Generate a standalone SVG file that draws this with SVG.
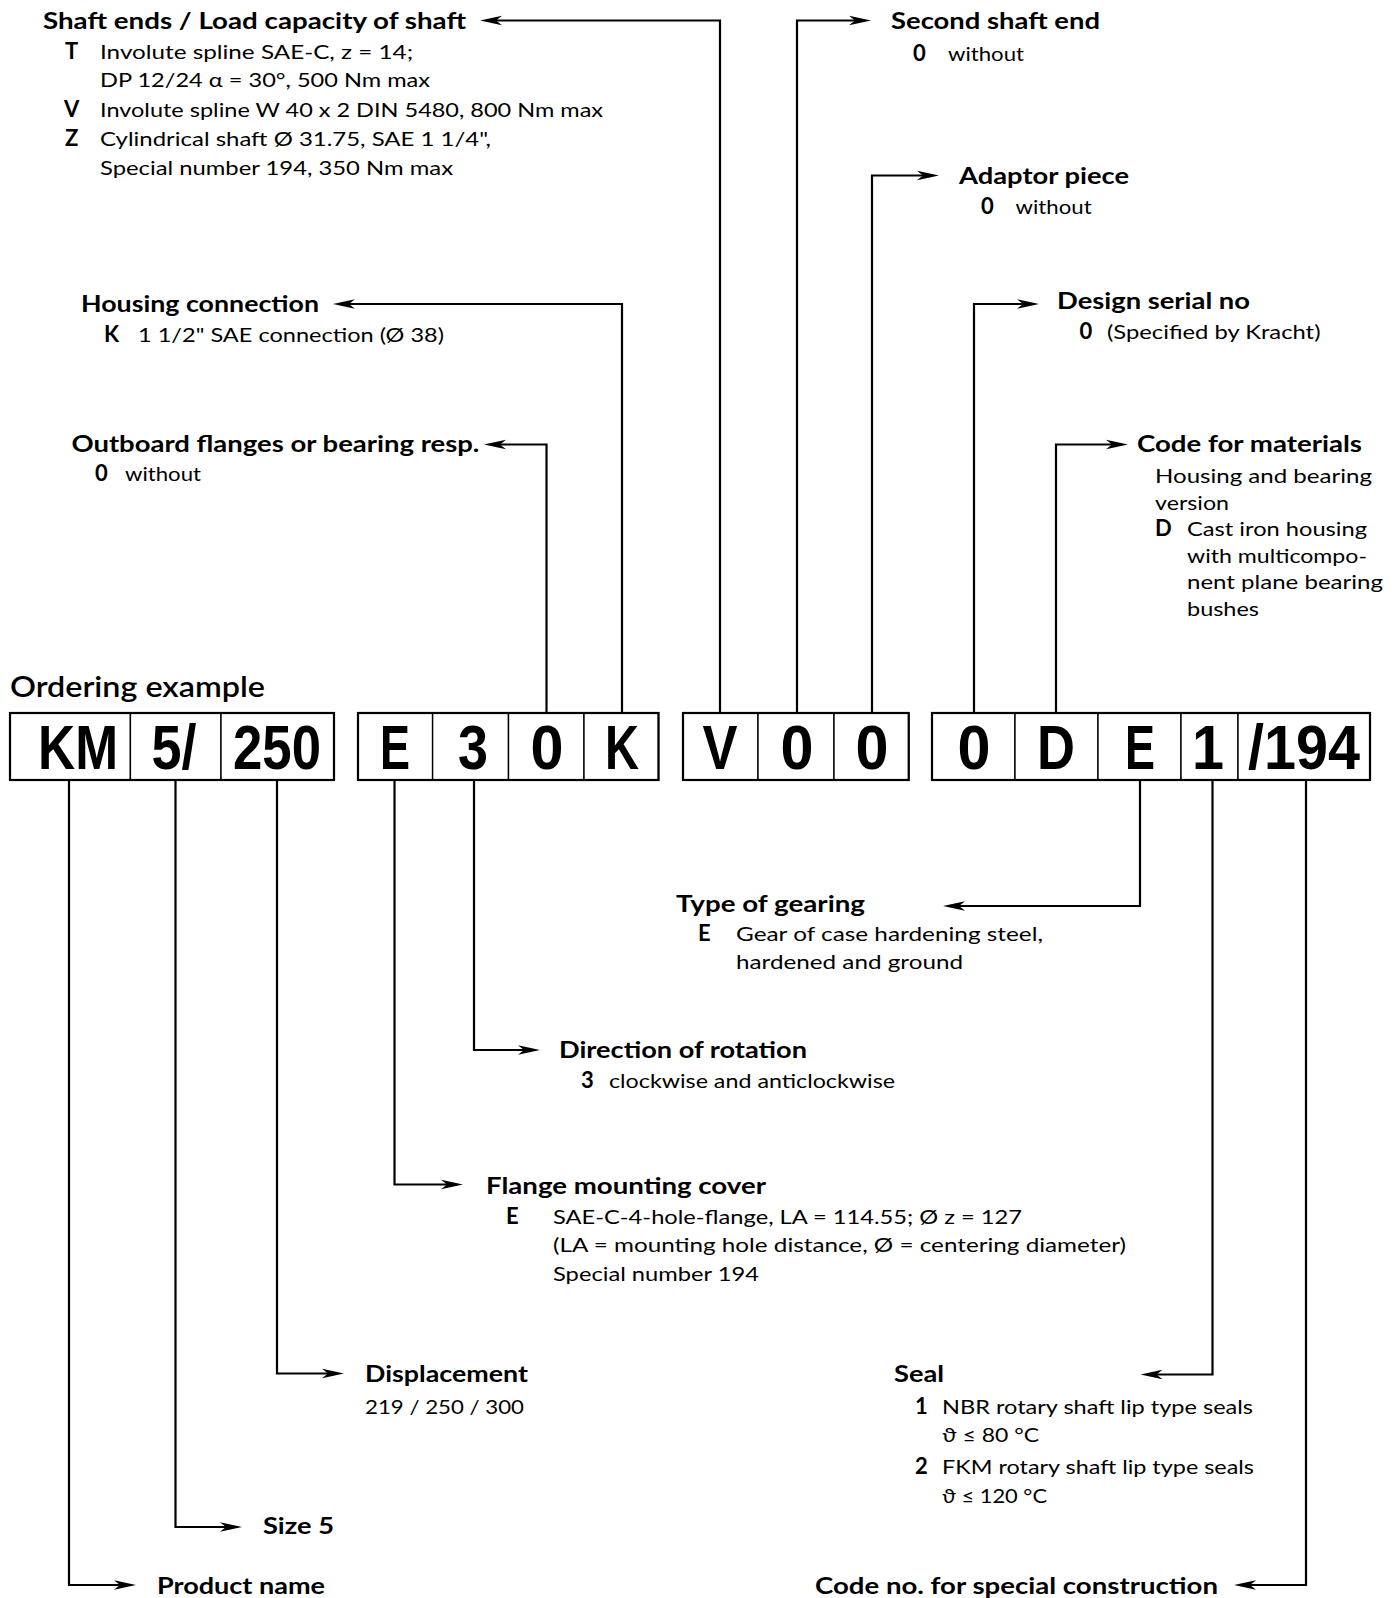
<svg xmlns="http://www.w3.org/2000/svg" width="1400" height="1598" viewBox="0 0 1400 1598">
<style>
.t{font-family:Lato,"Noto Sans",sans-serif;font-weight:700;font-size:22px;fill:#000}
.b{font-family:Lato,"Noto Sans",sans-serif;font-weight:400;font-size:20px;fill:#000}
.k{font-family:Lato,"Noto Sans",sans-serif;font-weight:700;font-size:22px;fill:#000}
.h{font-family:Lato,"Noto Sans",sans-serif;font-weight:600;font-size:29px;fill:#000}
.c{font-family:"Liberation Sans",Arial,sans-serif;font-weight:700;font-size:63px;fill:#000;text-anchor:middle}
.cell{fill:#fff;stroke:#000;stroke-width:1.4}
.grp{fill:none;stroke:#000;stroke-width:2.2}
.conn{fill:none;stroke:#000;stroke-width:2.2;stroke-linejoin:miter}
</style>
<defs>
<marker id="arr" markerUnits="userSpaceOnUse" viewBox="-14 -6 26 12" refX="0" refY="0" markerWidth="26" markerHeight="12" orient="auto">
<path d="M10,0 L-12,-4.8 L-6,0 L-12,4.8 Z" fill="#000"/>
</marker>
</defs>
<rect x="0" y="0" width="1400" height="1598" fill="#fff"/>

<g id="connectors">
<path class="conn" marker-end="url(#arr)" d="M720,713 V20.5 H490"/>
<path class="conn" marker-end="url(#arr)" d="M797,713 V20.5 H861"/>
<path class="conn" marker-end="url(#arr)" d="M872,713 V175.5 H929"/>
<path class="conn" marker-end="url(#arr)" d="M974,713 V304 H1029"/>
<path class="conn" marker-end="url(#arr)" d="M1056,713 V444.5 H1118"/>
<path class="conn" marker-end="url(#arr)" d="M622,713 V304 H343"/>
<path class="conn" marker-end="url(#arr)" d="M546.5,713 V444.5 H494"/>
<path class="conn" marker-end="url(#arr)" d="M69,780 V1585 H126"/>
<path class="conn" marker-end="url(#arr)" d="M175.5,780 V1527 H232"/>
<path class="conn" marker-end="url(#arr)" d="M277,780 V1373.5 H334"/>
<path class="conn" marker-end="url(#arr)" d="M394.5,780 V1184.5 H453"/>
<path class="conn" marker-end="url(#arr)" d="M474,780 V1050 H530"/>
<path class="conn" marker-end="url(#arr)" d="M1140,780 V906 H953"/>
<path class="conn" marker-end="url(#arr)" d="M1212.5,780 V1374.5 H1150.5"/>
<path class="conn" marker-end="url(#arr)" d="M1306,780 V1585 H1244"/>
</g>

<g id="title">
<text class="h" x="10" y="697" textLength="255" lengthAdjust="spacingAndGlyphs">Ordering example</text>
</g>

<g id="code-group-1">
<g id="cell-KM"><rect class="cell" x="10" y="713" width="120.4" height="67"/><text class="c" x="78" y="769" textLength="80" lengthAdjust="spacingAndGlyphs">KM</text></g>
<g id="cell-5"><rect class="cell" x="130.4" y="713" width="90.6" height="67"/><text class="c" x="174" y="769" textLength="45" lengthAdjust="spacingAndGlyphs">5/</text></g>
<g id="cell-250"><rect class="cell" x="221" y="713" width="113" height="67"/><text class="c" x="277" y="769" textLength="88" lengthAdjust="spacingAndGlyphs">250</text></g>
<rect class="grp" x="10" y="713" width="324" height="67"/>
</g>
<g id="code-group-2">
<g id="cell-E1"><rect class="cell" x="358" y="713" width="74.6" height="67"/><text class="c" x="395" y="769" textLength="30" lengthAdjust="spacingAndGlyphs">E</text></g>
<g id="cell-3"><rect class="cell" x="432.6" y="713" width="75.9" height="67"/><text class="c" x="473" y="769" textLength="30" lengthAdjust="spacingAndGlyphs">3</text></g>
<g id="cell-0a"><rect class="cell" x="508.5" y="713" width="75.5" height="67"/><text class="c" x="547" y="769" textLength="33" lengthAdjust="spacingAndGlyphs">0</text></g>
<g id="cell-K"><rect class="cell" x="584" y="713" width="74.5" height="67"/><text class="c" x="622" y="769" textLength="34" lengthAdjust="spacingAndGlyphs">K</text></g>
<rect class="grp" x="358" y="713" width="300.5" height="67"/>
</g>
<g id="code-group-3">
<g id="cell-V"><rect class="cell" x="683" y="713" width="75" height="67"/><text class="c" x="720" y="769" textLength="35" lengthAdjust="spacingAndGlyphs">V</text></g>
<g id="cell-0b"><rect class="cell" x="758" y="713" width="76" height="67"/><text class="c" x="797" y="769" textLength="33" lengthAdjust="spacingAndGlyphs">0</text></g>
<g id="cell-0c"><rect class="cell" x="834" y="713" width="74.7" height="67"/><text class="c" x="872" y="769" textLength="33" lengthAdjust="spacingAndGlyphs">0</text></g>
<rect class="grp" x="683" y="713" width="225.7" height="67"/>
</g>
<g id="code-group-4">
<g id="cell-0d"><rect class="cell" x="932" y="713" width="83" height="67"/><text class="c" x="974" y="769" textLength="33" lengthAdjust="spacingAndGlyphs">0</text></g>
<g id="cell-D"><rect class="cell" x="1015" y="713" width="83" height="67"/><text class="c" x="1056" y="769" textLength="38" lengthAdjust="spacingAndGlyphs">D</text></g>
<g id="cell-E2"><rect class="cell" x="1098" y="713" width="83" height="67"/><text class="c" x="1140" y="769" textLength="30" lengthAdjust="spacingAndGlyphs">E</text></g>
<g id="cell-1"><rect class="cell" x="1181" y="713" width="57" height="67"/><text class="c" x="1208" y="769" textLength="32" lengthAdjust="spacingAndGlyphs">1</text></g>
<g id="cell-194"><rect class="cell" x="1238" y="713" width="132" height="67"/><text class="c" x="1304" y="769" textLength="112" lengthAdjust="spacingAndGlyphs">/194</text></g>
<rect class="grp" x="932" y="713" width="438" height="67"/>
</g>

<g id="shaft-ends">
<text class="t" x="43" y="28.5" textLength="423" lengthAdjust="spacingAndGlyphs">Shaft ends / Load capacity of shaft</text>
<text class="k" x="65" y="58.5">T</text>
<text class="b" x="100" y="58.5" textLength="313" lengthAdjust="spacingAndGlyphs">Involute spline SAE-C, z = 14;</text>
<text class="b" x="100" y="87" textLength="330" lengthAdjust="spacingAndGlyphs">DP 12/24 α = 30°, 500 Nm max</text>
<text class="k" x="64" y="116.5">V</text>
<text class="b" x="100" y="116.5" textLength="503" lengthAdjust="spacingAndGlyphs">Involute spline W 40 x 2 DIN 5480, 800 Nm max</text>
<text class="k" x="65" y="146">Z</text>
<text class="b" x="100" y="146" textLength="391" lengthAdjust="spacingAndGlyphs">Cylindrical shaft Ø 31.75, SAE 1 1/4",</text>
<text class="b" x="100" y="174.5" textLength="353" lengthAdjust="spacingAndGlyphs">Special number 194, 350 Nm max</text>
</g>

<g id="second-shaft-end">
<text class="t" x="891" y="29" textLength="209" lengthAdjust="spacingAndGlyphs">Second shaft end</text>
<text class="k" x="913" y="60.5">0</text>
<text class="b" x="948" y="60.5" textLength="76" lengthAdjust="spacingAndGlyphs">without</text>
</g>

<g id="adaptor-piece">
<text class="t" x="959" y="184" textLength="170" lengthAdjust="spacingAndGlyphs">Adaptor piece</text>
<text class="k" x="981" y="213.5">0</text>
<text class="b" x="1015.6" y="213.5" textLength="76" lengthAdjust="spacingAndGlyphs">without</text>
</g>

<g id="design-serial-no">
<text class="t" x="1057" y="309" textLength="193" lengthAdjust="spacingAndGlyphs">Design serial no</text>
<text class="k" x="1079.5" y="338.5">0</text>
<text class="b" x="1107" y="338.5" textLength="213.5" lengthAdjust="spacingAndGlyphs">(Specified by Kracht)</text>
</g>

<g id="code-for-materials">
<text class="t" x="1137" y="451.5" textLength="225" lengthAdjust="spacingAndGlyphs">Code for materials</text>
<text class="b" x="1155" y="483" textLength="217" lengthAdjust="spacingAndGlyphs">Housing and bearing</text>
<text class="b" x="1155" y="509.5" textLength="74" lengthAdjust="spacingAndGlyphs">version</text>
<text class="k" x="1155" y="536">D</text>
<text class="b" x="1187" y="536" textLength="180" lengthAdjust="spacingAndGlyphs">Cast iron housing</text>
<text class="b" x="1187" y="562.5" textLength="180" lengthAdjust="spacingAndGlyphs">with multicompo-</text>
<text class="b" x="1187" y="589" textLength="196" lengthAdjust="spacingAndGlyphs">nent plane bearing</text>
<text class="b" x="1187" y="615.5" textLength="72" lengthAdjust="spacingAndGlyphs">bushes</text>
</g>

<g id="housing-connection">
<text class="t" x="81" y="312" textLength="238" lengthAdjust="spacingAndGlyphs">Housing connection</text>
<text class="k" x="104" y="342">K</text>
<text class="b" x="138" y="342" textLength="306" lengthAdjust="spacingAndGlyphs">1 1/2" SAE connection (Ø 38)</text>
</g>

<g id="outboard-flanges">
<text class="t" x="71.4" y="452" textLength="408" lengthAdjust="spacingAndGlyphs">Outboard flanges or bearing resp.</text>
<text class="k" x="95" y="481">0</text>
<text class="b" x="125" y="481" textLength="76" lengthAdjust="spacingAndGlyphs">without</text>
</g>

<g id="type-of-gearing">
<text class="t" x="676" y="912" textLength="189" lengthAdjust="spacingAndGlyphs">Type of gearing</text>
<text class="k" x="698" y="941">E</text>
<text class="b" x="736" y="941" textLength="307" lengthAdjust="spacingAndGlyphs">Gear of case hardening steel,</text>
<text class="b" x="736" y="969" textLength="227" lengthAdjust="spacingAndGlyphs">hardened and ground</text>
</g>

<g id="direction-of-rotation">
<text class="t" x="559" y="1058" textLength="248" lengthAdjust="spacingAndGlyphs">Direction of rotation</text>
<text class="k" x="581" y="1088">3</text>
<text class="b" x="609" y="1088" textLength="286" lengthAdjust="spacingAndGlyphs">clockwise and anticlockwise</text>
</g>

<g id="flange-mounting-cover">
<text class="t" x="486" y="1194" textLength="280" lengthAdjust="spacingAndGlyphs">Flange mounting cover</text>
<text class="k" x="506" y="1224">E</text>
<text class="b" x="553" y="1224" textLength="469" lengthAdjust="spacingAndGlyphs">SAE-C-4-hole-flange, LA = 114.55; Ø z = 127</text>
<text class="b" x="553" y="1251.5" textLength="573" lengthAdjust="spacingAndGlyphs">(LA = mounting hole distance, Ø = centering diameter)</text>
<text class="b" x="553" y="1280.5" textLength="206" lengthAdjust="spacingAndGlyphs">Special number 194</text>
</g>

<g id="displacement">
<text class="t" x="365" y="1382" textLength="163" lengthAdjust="spacingAndGlyphs">Displacement</text>
<text class="b" x="365" y="1413.5" textLength="159" lengthAdjust="spacingAndGlyphs">219 / 250 / 300</text>
</g>

<g id="seal">
<text class="t" x="894" y="1382" textLength="50" lengthAdjust="spacingAndGlyphs">Seal</text>
<text class="k" x="915" y="1413.5">1</text>
<text class="b" x="942" y="1413.5" textLength="311" lengthAdjust="spacingAndGlyphs">NBR rotary shaft lip type seals</text>
<text class="b" x="942" y="1441.5" textLength="97" lengthAdjust="spacingAndGlyphs">ϑ ≤ 80 °C</text>
<text class="k" x="915" y="1473.5">2</text>
<text class="b" x="942" y="1473.5" textLength="312" lengthAdjust="spacingAndGlyphs">FKM rotary shaft lip type seals</text>
<text class="b" x="942" y="1502.5" textLength="105" lengthAdjust="spacingAndGlyphs">ϑ ≤ 120 °C</text>
</g>

<g id="size">
<text class="t" x="263" y="1534" textLength="71" lengthAdjust="spacingAndGlyphs">Size 5</text>
</g>

<g id="product-name">
<text class="t" x="157" y="1594" textLength="168" lengthAdjust="spacingAndGlyphs">Product name</text>
</g>

<g id="special-construction">
<text class="t" x="815" y="1594" textLength="403" lengthAdjust="spacingAndGlyphs">Code no. for special construction</text>
</g>
</svg>
